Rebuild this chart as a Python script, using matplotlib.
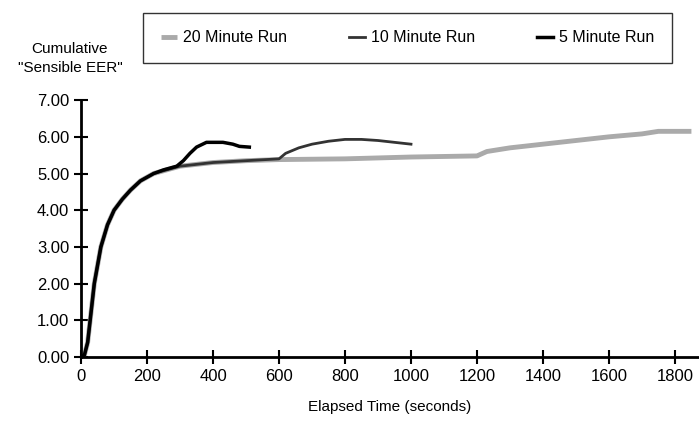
import matplotlib.pyplot as plt

plt.rcParams['font.family'] = ['Liberation Sans', 'DejaVu Sans']

t20 = [0, 10, 20, 30, 40, 60, 80, 100, 125, 150, 180, 220, 260, 300, 400, 500, 600, 800, 1000, 1200, 1230, 1300, 1400, 1500, 1600, 1700, 1750, 1850]
e20 = [0.0, 0.05, 0.4, 1.2, 2.0, 3.0, 3.6, 4.0, 4.3, 4.55, 4.8, 5.0, 5.1, 5.2, 5.3, 5.35, 5.38, 5.4, 5.45, 5.48, 5.6, 5.7, 5.8, 5.9, 6.0, 6.08, 6.15, 6.15]
t10 = [0, 10, 20, 30, 40, 60, 80, 100, 125, 150, 180, 220, 260, 300, 400, 500, 600, 620, 660, 700, 750, 800, 850, 900, 950, 1000]
e10 = [0.0, 0.05, 0.4, 1.2, 2.0, 3.0, 3.6, 4.0, 4.3, 4.55, 4.8, 5.0, 5.1, 5.2, 5.3, 5.35, 5.4, 5.55, 5.7, 5.8, 5.88, 5.93, 5.93, 5.9, 5.85, 5.8]
t5 = [0, 10, 20, 30, 40, 60, 80, 100, 125, 150, 180, 220, 250, 290, 310, 330, 350, 380, 430, 460, 480, 510]
e5 = [0.0, 0.05, 0.4, 1.2, 2.0, 3.0, 3.6, 4.0, 4.3, 4.55, 4.8, 5.0, 5.1, 5.2, 5.35, 5.55, 5.72, 5.85, 5.85, 5.8, 5.74, 5.72]

fig = plt.figure(figsize=(6.99, 4.28), dpi=100)
ax = fig.add_axes([0.116, 0.166, 0.884, 0.600])
l20, = ax.plot(t20, e20, color='#aaaaaa', lw=3.5, solid_capstyle='butt')
l10, = ax.plot(t10, e10, color='#333333', lw=2)
l5, = ax.plot(t5, e5, color='black', lw=2.5)

ax.set_xlim(0, 1873)
ax.set_ylim(0, 7)
ax.set_xticks(range(0, 1801, 200))
ax.set_yticks([i for i in range(8)])
ax.set_yticklabels([f'{i}.00' for i in range(8)])
for s in ['top', 'right']:
    ax.spines[s].set_visible(False)
ax.spines['left'].set_linewidth(2)
ax.spines['bottom'].set_linewidth(2)
ax.tick_params(direction='inout', length=10, width=1.5, labelsize=12)
ax.set_xlabel('Elapsed Time (seconds)', fontsize=11, labelpad=12)
fig.text(0.1, 0.885, 'Cumulative', ha='center', va='center', fontsize=11)
fig.text(0.1, 0.84, '"Sensible EER"', ha='center', va='center', fontsize=11)
fig.legend([l20, l10, l5], ['20 Minute Run', '10 Minute Run', '5 Minute Run'],
           ncol=3, loc='upper left', bbox_to_anchor=(0.205, 0.97, 0.756, 0.0), mode='expand',
           fancybox=False, edgecolor='black', fontsize=11.5, handlelength=1.0,
           handletextpad=0.4, borderpad=1.1, borderaxespad=0)
fig.savefig('out.png')
